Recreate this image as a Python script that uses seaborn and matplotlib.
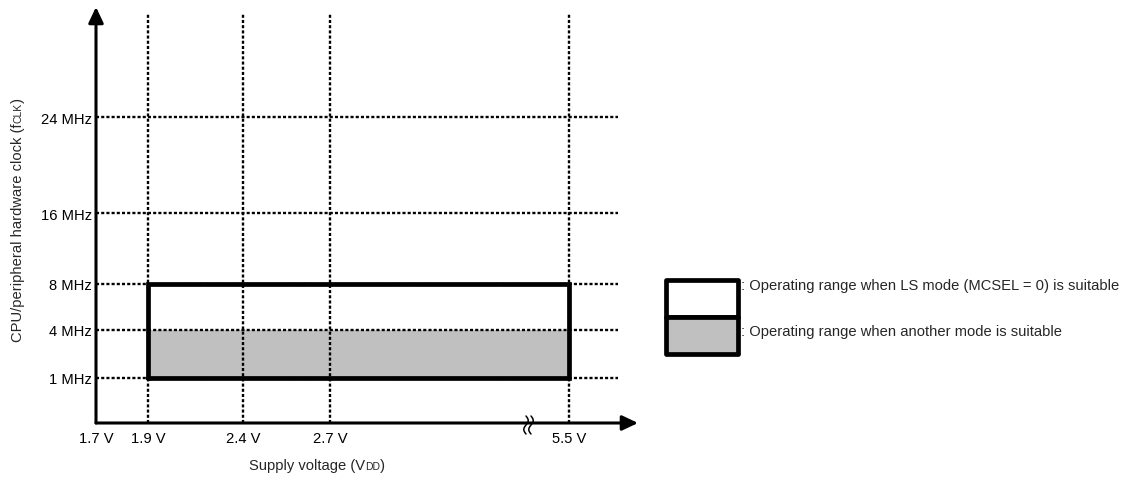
import numpy as np
import seaborn as sns
import matplotlib.pyplot as plt
from matplotlib.patches import Rectangle
from matplotlib.transforms import IdentityTransform

sns.set_style("white")
plt.rcParams["font.family"] = ["Liberation Sans", "DejaVu Sans"]

# Data
voltages = [1.7, 1.9, 2.4, 2.7, 5.5]
voltage_labels = ["1.7 V", "1.9 V", "2.4 V", "2.7 V", "5.5 V"]
freqs = [1, 4, 8, 16, 24]
freq_labels = ["1 MHz", "4 MHz", "8 MHz", "16 MHz", "24 MHz"]
ls_range = {"v": (1.9, 5.5), "f": (1, 8)}
other_range = {"v": (1.9, 5.5), "f": (1, 4)}
legend_labels = [": Operating range when LS mode (MCSEL = 0) is suitable",
                 ": Operating range when another mode is suitable"]

# Schematic (non-linear) layout of the axes, in pixels from the origin
x_layout = dict(zip(voltages, [0, 52, 147, 234, 473]))
y_layout = dict(zip(freqs, [45, 93, 139, 210, 306]))
GREY = "#c0c0c0"
FS = 10.6

fig = plt.figure(figsize=(11.28, 4.81), dpi=100)
ax = fig.add_axes([96 / 1128, 57 / 481, 544 / 1128, 416 / 481])
ax.set_xlim(0, 544)
ax.set_ylim(0, 416)
for s in ax.spines.values():
    s.set_visible(False)
ax.set_facecolor("none")

# grey fill (another mode)
xv = [x_layout[v] for v in other_range["v"]]
ax.fill_between(xv, y_layout[other_range["f"][0]], y_layout[other_range["f"][1]],
                color=GREY, lw=0, zorder=1)

# dotted guide lines
dot = dict(color="black", lw=1.7, dashes=(1.3, 0.9), zorder=2)
for f in freqs:
    ax.plot([0, 522], [y_layout[f]] * 2, **dot)
for v in voltages[1:]:
    ax.plot([x_layout[v]] * 2, [0, 409], **dot)

# LS mode range outline
x0, x1 = (x_layout[v] for v in ls_range["v"])
y0, y1 = (y_layout[f] for f in ls_range["f"])
ax.plot([x0, x1, x1, x0, x0], [y0, y0, y1, y1, y0], color="black", lw=3.4,
        solid_joinstyle="miter", zorder=3)

# axes arrows
arrow = dict(arrowstyle="-|>,head_length=0.95,head_width=0.45", lw=2.2,
             color="black", mutation_scale=10, shrinkA=0, shrinkB=0)
ax.annotate("", xy=(542, 0), xytext=(0, 0), arrowprops=arrow, annotation_clip=False)
ax.annotate("", xy=(0, 416), xytext=(0, 0), arrowprops=arrow, annotation_clip=False)

# axis break mark
t = np.linspace(-1, 1, 40)
for bx in (430, 435):
    ax.plot(bx + 2.2 * np.sin(t * np.pi), -2 + t * 9, color="black", lw=1.1, zorder=5,
            clip_on=False)

# ticks
ax.set_xticks([x_layout[v] for v in voltages], voltage_labels)
ax.set_yticks([y_layout[f] for f in freqs], freq_labels)
ax.tick_params(length=0, labelsize=FS, colors="black")
ax.tick_params(axis="x", pad=6)
ax.tick_params(axis="y", pad=3)


def rich_text(parts, x, y, rotation=0):
    """Place text pieces of different sizes on a common baseline, centred at x/y (pixels)."""
    r = fig.canvas.get_renderer()
    items = []
    for s, size in parts:
        tx = fig.text(x, y, s, fontsize=size, rotation=rotation, rotation_mode="anchor",
                      ha="left", va="baseline", transform=IdentityTransform())
        ext = tx.get_window_extent(r)
        items.append((tx, ext.height if rotation else ext.width))
    total = sum(w for _, w in items)
    pos = -total / 2
    for tx, w in items:
        if rotation:
            tx.set_position((x, y + pos))
        else:
            tx.set_position((x + pos, y))
        pos += w


rich_text([("Supply voltage (V", FS), ("DD", 7.5), (")", FS)], 317, 481 - 470)
rich_text([("CPU/peripheral hardware clock (f", FS), ("CLK", 7.5), (")", FS)], 22, 481 - 220,
          rotation=90)

# legend
lax = fig.add_axes([666 / 1128, 126 / 481, 72 / 1128, 74 / 481])
lax.set_xlim(0, 1)
lax.set_ylim(0, 2)
lax.axis("off")
lax.add_patch(Rectangle((0, 1), 1, 1, facecolor="white", edgecolor="black", lw=3.4,
                        clip_on=False, joinstyle="round"))
lax.add_patch(Rectangle((0, 0), 1, 1, facecolor=GREY, edgecolor="black", lw=3.4,
                        clip_on=False, joinstyle="round"))
lax.text(1.04, 1.86, legend_labels[0], fontsize=FS, va="center", ha="left")
lax.text(1.04, 0.62, legend_labels[1], fontsize=FS, va="center", ha="left")

fig.savefig("out.png", dpi=100)
